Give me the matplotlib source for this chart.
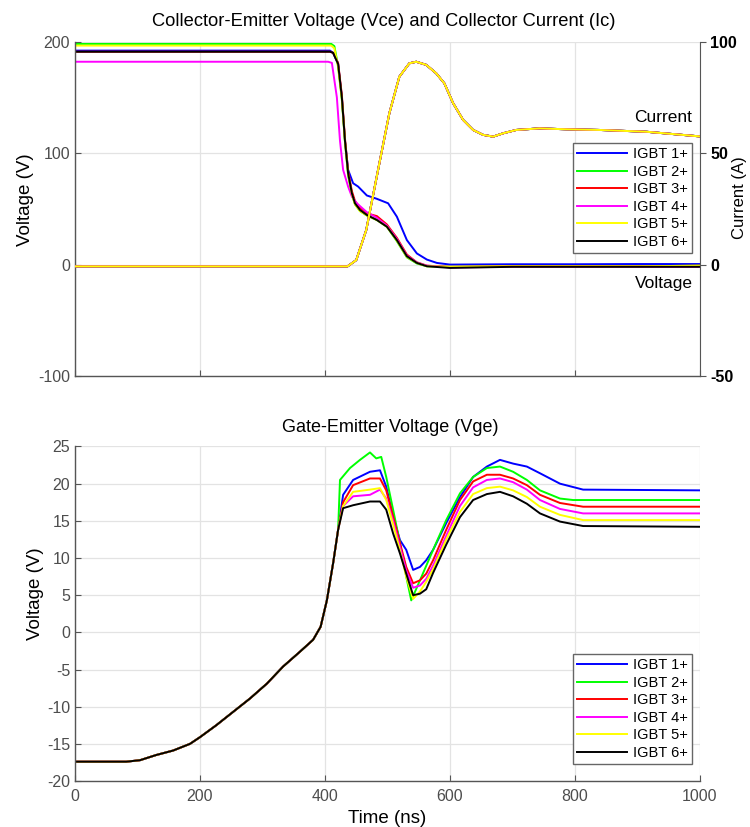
import numpy as np
import matplotlib
matplotlib.use("Agg")
import matplotlib.pyplot as plt

plt.rcParams['font.family'] = ['Liberation Sans', 'DejaVu Sans']
plt.rcParams['axes.unicode_minus'] = False

########################################################
# DATA

labels = ["IGBT 1+", "IGBT 2+", "IGBT 3+", "IGBT 4+", "IGBT 5+", "IGBT 6+"]
colors = ["#0000ff", "#00ff00", "#ff0000", "#ff00ff", "#ffff00", "#000000"]

# Collector-emitter voltage (V) vs time (ns)
vce1_t = [0, 408, 413, 421, 427, 432, 437, 445, 453, 467, 483, 501, 515, 531, 547, 563, 579, 600, 700, 800, 900, 1000]
vce1 = [192, 192, 190, 180, 150, 111, 85, 73, 70, 62, 59, 55, 43, 22, 10, 4.5, 1.5, 0, 0.3, 0.3, 0.5, 0.5]
vce2_t = [0, 410, 415, 421, 427, 432, 437, 443, 448, 456, 467, 483, 499, 515, 531, 547, 563, 600, 700, 800, 900, 1000]
vce2 = [198, 198, 196, 178, 148, 110, 80, 63, 54, 48, 44, 40, 34, 21, 6.5, 1, -1.5, -2, -1.5, -1.5, -1.5, -1]
vce3_t = [0, 408, 413, 421, 427, 432, 437, 443, 448, 456, 467, 483, 499, 515, 531, 547, 563, 600, 700, 800, 900, 1000]
vce3 = [191, 191, 190, 181, 152, 113, 84, 66, 57, 51, 46, 43.5, 36, 24, 9, 2, -1, -2, -1.5, -1.5, -1.5, -1]
vce4_t = [0, 405, 411, 419, 424, 429, 437, 443, 451, 467, 483, 499, 515, 531, 547, 563, 600, 700, 800, 900, 1000]
vce4 = [182, 182, 181, 150, 111, 85, 70, 61, 55, 47, 42, 35, 23, 8, 2, -1, -2.5, -2, -2, -2, -2]
vce5_t = [0, 410, 415, 421, 427, 432, 437, 443, 448, 456, 467, 483, 499, 515, 531, 547, 563, 600, 700, 800, 900, 1000]
vce5 = [196.5, 196.5, 194, 177, 148, 110, 81, 63, 54, 48, 44, 40, 34, 21.5, 7, 1.5, -1.5, -2, -1.5, -1.5, -1.5, -1]
vce6_t = [0, 408, 413, 421, 427, 432, 437, 443, 448, 456, 467, 483, 499, 515, 531, 547, 563, 600, 700, 800, 900, 1000]
vce6 = [191, 191, 190, 180, 150, 111, 82, 64, 55, 49, 44.5, 40, 34, 22, 7.5, 1.5, -1.5, -3, -2, -2, -2, -2]

# Collector current (A), the six traces lie on top of each other
ic_t = [0, 200, 436, 450, 466, 487, 503, 519, 535, 546, 562, 578, 591, 605, 621, 637, 653, 669, 685, 706, 743, 786, 839, 914, 1000]
ic = [-0.8, -0.8, -0.8, 2, 15.5, 45.4, 67.9, 84.3, 90.3, 91, 89.6, 85.8, 81.3, 72.4, 64.9, 60.4, 58.2, 57.4, 58.9, 60.4, 61.1, 60.7, 60.4, 59.6, 57.5]

# Gate-emitter voltage (V): common rise, then one tail per IGBT
vge_rise_t = [0, 82, 104, 130, 157, 184, 200, 226, 253, 280, 307, 333, 360, 381, 393, 403, 413, 421]
vge_rise = [-17.4, -17.4, -17.2, -16.5, -15.9, -15.0, -14.1, -12.5, -10.7, -8.9, -6.9, -4.6, -2.6, -1.0, 0.75, 4.3, 9.3, 13.8]

tail_t = [429, 445, 472, 488, 498, 509, 520, 530, 541, 552, 562, 573, 594, 616, 637, 659, 680, 701, 723, 744, 776, 813, 1000]
vge1_tail = [18.5, 20.5, 21.6, 21.8, 19.6, 15.6, 12.4, 11.1, 8.4, 8.8, 9.7, 11.1, 14.7, 18.2, 20.9, 22.3, 23.2, 22.7, 22.3, 21.4, 20.0, 19.2, 19.1]
vge2_t = [424, 440, 456, 472, 482, 490, 498, 509, 520, 530, 538, 552, 573, 594, 616, 637, 659, 680, 701, 723, 744, 776, 797, 1000]
vge2_tail = [20.5, 22.1, 23.2, 24.2, 23.4, 23.6, 20.9, 16.5, 12, 7.5, 4.3, 7.0, 11.1, 15.1, 18.7, 20.9, 22.1, 22.3, 21.6, 20.5, 19.1, 18.0, 17.8, 17.8]
vge3_tail = [17.5, 19.8, 20.7, 20.7, 19.1, 15.6, 12, 8.8, 6.6, 7.0, 7.9, 9.7, 13.8, 17.8, 20.3, 21.2, 21.2, 20.7, 19.8, 18.5, 17.4, 16.9, 16.9]
vge4_tail = [17.0, 18.3, 18.5, 19.2, 18.0, 15.0, 11.5, 8.3, 6.0, 6.3, 7.2, 9.0, 13.0, 17.0, 19.5, 20.5, 20.7, 20.2, 19.2, 17.8, 16.6, 16.0, 16.0]
vge5_tail = [17.0, 18.9, 19.2, 19.4, 17.8, 14.5, 11, 7.5, 4.5, 5.5, 6.8, 8.5, 12.5, 16.2, 18.6, 19.4, 19.6, 19.1, 18.2, 16.9, 15.8, 15.1, 15.1]
vge6_tail = [16.7, 17.1, 17.6, 17.6, 16.5, 13.3, 10.6, 7.9, 5.0, 5.2, 5.8, 8.0, 11.8, 15.5, 17.8, 18.6, 18.9, 18.3, 17.3, 16.0, 14.9, 14.3, 14.2]

vce_t = [vce1_t, vce2_t, vce3_t, vce4_t, vce5_t, vce6_t]
vce = [vce1, vce2, vce3, vce4, vce5, vce6]
vge_t = [vge_rise_t + tail_t, vge_rise_t + vge2_t, vge_rise_t + tail_t,
         vge_rise_t + tail_t, vge_rise_t + tail_t, vge_rise_t + tail_t]
vge = [vge_rise + vge1_tail, vge_rise + vge2_tail, vge_rise + vge3_tail,
       vge_rise + vge4_tail, vge_rise + vge5_tail, vge_rise + vge6_tail]

########################################################
# STYLE HELPERS

TICK_GRAY = "#4d4d4d"
SPINE_GRAY = "#555555"
GRID_GRAY = "#e3e3e3"
LW = 1.4


def style_axes(ax):
    ax.set_xlim(0, 1000)
    ax.set_xticks([0, 200, 400, 600, 800, 1000])
    ax.grid(True, color=GRID_GRAY, linewidth=0.9)
    ax.set_axisbelow(True)
    ax.tick_params(direction='in', length=4, width=0.8, colors=SPINE_GRAY,
                   labelcolor=TICK_GRAY, labelsize=11.5)
    ax.tick_params(axis='x', pad=6)
    for side in ['top', 'right']:
        ax.spines[side].set_visible(False)
    for side in ['left', 'bottom']:
        ax.spines[side].set_color(SPINE_GRAY)
        ax.spines[side].set_linewidth(1.0)


def add_legend(ax, ypos):
    leg = ax.legend(loc='upper right', bbox_to_anchor=(0.987, ypos), fontsize=10.5,
                    handlelength=3.4, labelspacing=0.24, borderpad=0.3,
                    handletextpad=0.4, borderaxespad=0, fancybox=False, framealpha=1)
    leg.get_frame().set_edgecolor("#666666")
    leg.get_frame().set_linewidth(1.0)
    for line in leg.get_lines():
        line.set_linewidth(1.4)


########################################################
# FIGURE

fig = plt.figure(figsize=(7.5, 8.27), dpi=100)
ax1 = fig.add_axes([0.1, 0.5453, 0.8333, 0.4043])
ax2 = fig.add_axes([0.1, 0.0556, 0.8333, 0.4045])

# Top: Vce (left) and Ic (right)
style_axes(ax1)
ax1.set_ylim(-100, 200)
ax1.set_yticks([-100, 0, 100, 200])
ax1.set_xticklabels([])
ax1r = ax1.twinx()
ax1r.set_ylim(-50, 100)
ax1r.set_yticks([-50, 0, 50, 100])
ax1r.tick_params(direction='out', length=4, width=0.8, colors=SPINE_GRAY,
                 labelcolor='black', labelsize=11.5)
for t in ax1r.get_yticklabels():
    t.set_fontweight('bold')
for side in ['top', 'left', 'bottom']:
    ax1r.spines[side].set_visible(False)
ax1r.spines['right'].set_color(SPINE_GRAY)

for k in [5, 0, 1, 2, 3, 4]:
    ax1r.plot(ic_t, ic, color=colors[k], linewidth=LW)
for k in range(6):
    ax1.plot(vce_t[k], vce[k], color=colors[k], linewidth=LW, label=labels[k])

ax1.set_ylabel("Voltage (V)", fontsize=13.5, color='black')
ax1.yaxis.set_label_coords(-0.066, 0.526)
ax1r.set_ylabel("Current (A)", fontsize=12, color='black')
ax1r.yaxis.set_label_coords(1.052, 0.535)
ax1.text(988, 131.6, "Current", ha='right', va='center', fontsize=12.5)
ax1.text(988, -17.4, "Voltage", ha='right', va='center', fontsize=12.5)
add_legend(ax1, 0.697)
fig.text(0.511, 1 - 21 / 827, "Collector-Emitter Voltage (Vce) and Collector Current (Ic)",
         ha='center', va='center', fontsize=13.2)

# Bottom: Vge
style_axes(ax2)
ax2.set_ylim(-20, 25)
ax2.set_yticks(np.arange(-20, 26, 5))
for k in range(6):
    ax2.plot(vge_t[k], vge[k], color=colors[k], linewidth=LW, label=labels[k])
ax2.set_ylabel("Voltage (V)", fontsize=13.5, color='black')
ax2.yaxis.set_label_coords(-0.05, 0.559)
ax2.set_xlabel("Time (ns)", fontsize=13.5, color='black', labelpad=4)
add_legend(ax2, 0.38)
fig.text(0.521, 1 - 427 / 827, "Gate-Emitter Voltage (Vge)",
         ha='center', va='center', fontsize=13)

fig.savefig("out.png", dpi=100)
